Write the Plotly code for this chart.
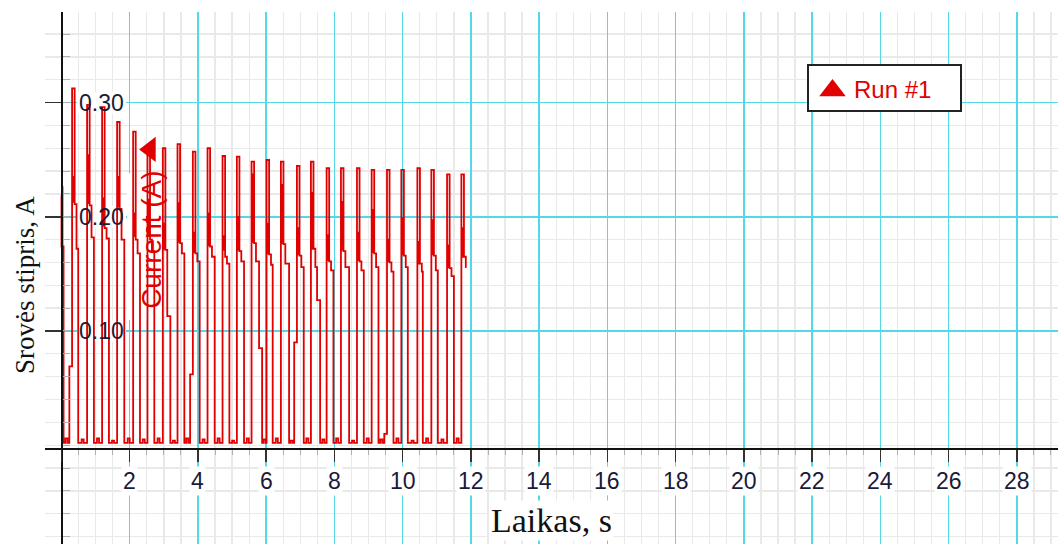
import plotly.graph_objects as go

# ---------------- data ----------------
# opening partial pulse at t = 0
start_t = [0.0, 0.03, 0.03, 0.0, 0.0, 0.03, 0.03, 0.06, 0.06]
start_v = [0.226, 0.226, 0.174, 0.174, 0.218, 0.218, 0.174, 0.174, 0.002]

rise_t = [0.31, 0.75, 1.19, 1.63, 2.10, 2.52, 2.97, 3.40, 3.85, 4.28, 4.72, 5.14, 5.57, 6.01,
          6.43, 6.90, 7.31, 7.77, 8.19, 8.66, 9.09, 9.54, 9.96, 10.43, 10.84, 11.30, 11.72]
peak_a = [0.3125, 0.298, 0.296, 0.283, 0.2745, 0.262, 0.260, 0.2637, 0.257, 0.260, 0.2532,
          0.2526, 0.2483, 0.2497, 0.2483, 0.2445, 0.2483, 0.2425, 0.2425, 0.2425, 0.241,
          0.241, 0.241, 0.2425, 0.241, 0.2372, 0.2372]
thick_top = [0.235, 0.254, 0.216, 0.235, 0.203, 0.215, 0.194, 0.212, 0.186, 0.203, 0.183,
             0.200, 0.237, 0.194, 0.228, 0.190, 0.221, 0.184, 0.213, 0.186, 0.206, 0.180,
             0.199, 0.178, 0.197, 0.175, 0.190]
thick_bot = [0.213, 0.212, 0.192, 0.209, 0.183, 0.185, 0.172, 0.178, 0.169, 0.175, 0.171,
             0.171, 0.178, 0.168, 0.177, 0.167, 0.172, 0.162, 0.171, 0.162, 0.169, 0.161,
             0.167, 0.159, 0.167, 0.156, 0.165]
level_1 = [0.211, 0.210, 0.190, 0.207, 0.180, 0.180, 0.171, 0.177, 0.168, 0.174, 0.165,
           0.170, 0.177, 0.167, 0.176, 0.166, 0.172, 0.161, 0.170, 0.161, 0.168, 0.160,
           0.166, 0.159, 0.166, 0.155, 0.165]
level_2 = [0.172, 0.182, 0.181, 0.180, 0.168, 0.170, 0.171, 0.168, 0.161, 0.165, 0.159,
           0.161, 0.161, 0.158, 0.159, 0.156, 0.156, 0.153, 0.156, 0.153, 0.156, 0.152,
           0.156, 0.152, 0.153, 0.148, 0.156]
level_3 = [0, 0, 0, 0, 0, 0, 0.113, 0, 0, 0, 0, 0, 0.085, 0, 0, 0, 0.127, 0, 0, 0, 0, 0,
           0, 0, 0, 0, 0]
pulse_len = [0.18, 0.20, 0.20, 0.21, 0.20, 0.20, 0.22, 0.20, 0.20, 0.21, 0.20, 0.21, 0.31,
             0.18, 0.24, 0.20, 0.27, 0.20, 0.24, 0.20, 0.20, 0.19, 0.19, 0.16, 0.19, 0.20, 0.15]
pre_step = [0.069, 0, 0, 0, 0, 0, 0, 0, 0.062, 0, 0, 0, 0, 0, 0, 0.090, 0, 0, 0, 0, 0,
            0.010, 0, 0, 0, 0, 0]
gap_bump = [0.006, 0.005, 0.006, 0.004, 0.006, 0.005, 0.006, 0.004, 0.006, 0.005, 0.006,
            0.004, 0.006, 0.005, 0.006, 0.004, 0.006, 0.005, 0.006, 0.004, 0.006, 0.005,
            0.006, 0.004, 0.006, 0.005, 0.006]
base_level = 0.002

x_tick_vals = [2, 4, 6, 8, 10, 12, 14, 16, 18, 20, 22, 24, 26, 28]
y_tick_vals = [0.10, 0.20, 0.30]
y_tick_text = ["0.10", "0.20", "0.30"]

# ---------------- build the sampled line ----------------
t = list(start_t)
v = list(start_v)
prev_end = start_t[-1]
n = len(rise_t)
D1, DM, DS, DE = 0.075, 0.037, 0.13, 0.09
for i in range(n):
    r = rise_t[i]
    g1 = r - (0.08 if pre_step[i] else 0.0)
    mid = (prev_end + g1) / 2
    t += [mid - 0.03, mid - 0.03, mid + 0.03, mid + 0.03]
    v += [base_level, gap_bump[i], gap_bump[i], base_level]
    if pre_step[i]:
        t += [r - 0.08, r - 0.08, r]
        v += [base_level, pre_step[i], pre_step[i]]
    else:
        t += [r]
        v += [base_level]
    P, A, B = peak_a[i], thick_top[i], thick_bot[i]
    C, D, E = level_1[i], level_2[i], level_3[i]
    f = r + pulse_len[i]
    t += [r, r + D1, r + D1, r + DM, r + DM, r + D1, r + D1, r + DS, r + DS]
    v += [P, P, B, B, A, A, C, C, D]
    last = D
    if E:
        t += [f - DE, f - DE]
        v += [D, E]
        last = E
    t += [f]
    v += [last]
    if i < n - 1:
        t += [f]
        v += [base_level]
    prev_end = f

# ---------------- geometry ----------------
W, H = 1058, 544
ML, MT = 45, 12
PW, PH = W - ML, H - MT
X_RANGE = [-0.4836, 29.206]
Y_RANGE = [-0.0865, 0.3793]
X0_PX, X_SCALE = 61.5, 34.12     # pixel of t = 0, pixels per second
Y0_PX, Y_SCALE = 445.2, 1142.0   # pixel of I = 0, pixels per ampere

def px_x(px):
    return (px - ML) / PW

def px_y(py):
    return (H - py) / PH

def dx(px):
    return (px - X0_PX) / X_SCALE

def dy(py):
    return (Y0_PX - py) / Y_SCALE

RED = "#e00000"
CYAN = "#52d8e6"
GRAY = "#e9e9e9"
TXT = "#1a1a3a"
SANS = "Liberation Sans, Arial, sans-serif"
SERIF = "Liberation Serif, Times New Roman, serif"

fig = go.Figure()
fig.add_trace(go.Scatter(x=t, y=v, mode="lines", line=dict(color=RED, width=1.8),
                         showlegend=False, hoverinfo="skip"))

# label arrow ("Current (A)") pointing at the 6th pulse
label_x, label_y = 2.60, 0.259
fig.add_trace(go.Scatter(x=[label_x], y=[label_y], mode="markers",
                         marker=dict(symbol="triangle-left", size=22, color=RED),
                         showlegend=False, hoverinfo="skip"))

# legend symbol on an overlay axis pair matching paper coordinates
fig.add_trace(go.Scatter(x=[px_x(832.5)], y=[px_y(90.5)], mode="markers",
                         marker=dict(symbol="triangle-up", size=23, color=RED),
                         xaxis="x2", yaxis="y2", showlegend=False, hoverinfo="skip"))

fig.update_layout(
    width=W, height=H,
    margin=dict(l=ML, r=0, t=MT, b=0, pad=0),
    paper_bgcolor="white", plot_bgcolor="white",
    font=dict(family=SANS, size=23, color=TXT),
    showlegend=False,
    xaxis=dict(
        range=X_RANGE, anchor="free", position=px_y(449), side="bottom",
        showline=True, linecolor="#111111", linewidth=2,
        tickmode="linear", tick0=0, dtick=2,
        ticks="outside", ticklen=12, tickwidth=1.5, tickcolor="#333333",
        showticklabels=False,
        showgrid=True, gridcolor=CYAN, gridwidth=1.5,
        zeroline=False,
        minor=dict(dtick=0.5, tick0=0, showgrid=True, gridcolor=GRAY, gridwidth=1.3,
                   ticks="outside", ticklen=5, tickcolor="#b0b0b0", tickwidth=1),
        fixedrange=True,
    ),
    yaxis=dict(
        range=Y_RANGE, anchor="free", position=px_x(61.5), side="left",
        showline=True, linecolor="#111111", linewidth=2,
        tickmode="array", tickvals=y_tick_vals,
        ticks="outside", ticklen=16, tickwidth=1.5, tickcolor="#333333",
        showticklabels=False,
        showgrid=True, gridcolor=CYAN, gridwidth=1.5,
        zeroline=False,
        minor=dict(dtick=0.02, tick0=0, showgrid=True, gridcolor=GRAY, gridwidth=1.3,
                   ticks="inside", ticklen=7, tickcolor="#b0b0b0", tickwidth=1),
        fixedrange=True,
    ),
    xaxis2=dict(range=[0, 1], overlaying="x", visible=False, fixedrange=True),
    yaxis2=dict(range=[0, 1], overlaying="y", visible=False, fixedrange=True),
)

shapes = []
# white backing behind the y tick labels and the series label (under the data)
for yv in y_tick_vals:
    shapes.append(dict(type="rect", xref="x", yref="y", layer="between",
                       x0=0.454, x1=1.89, y0=yv - 0.0095, y1=yv + 0.0095,
                       fillcolor="white", line=dict(width=0)))
shapes.append(dict(type="rect", xref="x", yref="y", layer="between",
                   x0=1.92, x1=2.99, y0=0.1096, y1=0.238,
                   fillcolor="white", line=dict(width=0)))
# legend box: white fill above the grid, solid border on top
shapes.append(dict(type="rect", xref="x", yref="y", layer="between",
                   x0=dx(808), x1=dx(961), y0=dy(111), y1=dy(65),
                   fillcolor="white", line=dict(width=0)))
shapes.append(dict(type="rect", xref="paper", yref="paper", layer="above",
                   x0=px_x(808), x1=px_x(961), y0=px_y(111), y1=px_y(65),
                   fillcolor="rgba(0,0,0,0)", line=dict(color="#222222", width=2)))
fig.update_layout(shapes=shapes)

ann = []
for xv in x_tick_vals:
    ann.append(dict(x=xv, y=-0.0313, xref="x", yref="y", text=str(xv), showarrow=False,
                    xanchor="center", yanchor="middle", bgcolor="white", borderpad=1,
                    font=dict(family=SANS, size=23, color=TXT)))
for yv, yt in zip(y_tick_vals, y_tick_text):
    ann.append(dict(x=1.172, y=yv, xref="x", yref="y", text=yt, showarrow=False,
                    xanchor="center", yanchor="middle",
                    font=dict(family=SANS, size=23, color=TXT)))
ann.append(dict(x=2.63, y=0.18, xref="x", yref="y", text="Current (A)", showarrow=False,
                textangle=-90, xanchor="center", yanchor="middle",
                font=dict(family=SANS, size=28, color=RED)))
ann.append(dict(x=0.5, y=px_y(520), xref="paper", yref="paper", text="Laikas, s",
                showarrow=False, xanchor="center", yanchor="middle", bgcolor="white",
                font=dict(family=SERIF, size=34, color="#111111")))
ann.append(dict(x=px_x(25), y=px_y(285), xref="paper", yref="paper",
                text="Srovės stipris, A", showarrow=False, textangle=-90,
                xanchor="center", yanchor="middle",
                font=dict(family=SERIF, size=27, color="#111111")))
ann.append(dict(x=px_x(852), y=px_y(89), xref="paper", yref="paper", text="Run #1",
                showarrow=False, xanchor="left", yanchor="middle",
                font=dict(family=SANS, size=24, color=RED)))
fig.update_layout(annotations=ann)

fig.write_html("out.html", include_plotlyjs=True, full_html=True,
               config=dict(displayModeBar=False, staticPlot=True))
